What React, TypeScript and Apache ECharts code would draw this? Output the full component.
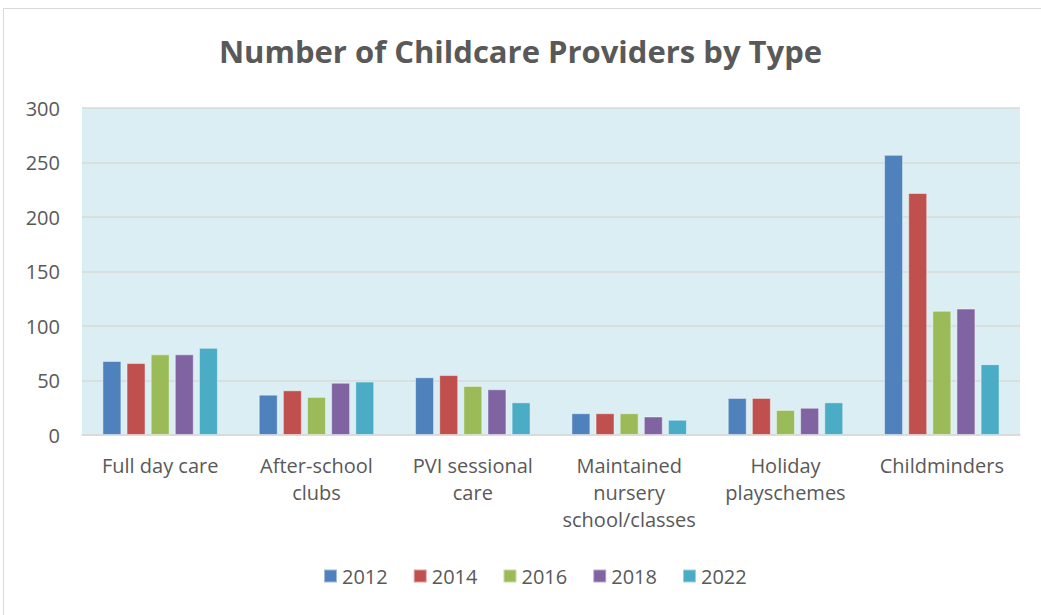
import React, { useEffect, useRef } from "react";
import * as echarts from "echarts";

const categories = [
  "Full day care",
  "After-school\nclubs",
  "PVI sessional\ncare",
  "Maintained\nnursery\nschool/classes",
  "Holiday\nplayschemes",
  "Childminders",
];
const years = ["2012", "2014", "2016", "2018", "2022"];
const v2012 = [68, 37, 53, 20, 34, 257];
const v2014 = [66, 41, 55, 20, 34, 222];
const v2016 = [74, 35, 45, 20, 23, 114];
const v2018 = [74, 48, 42, 17, 25, 116];
const v2022 = [80, 49, 30, 14, 30, 65];
const colors = ["#4F81BD", "#C0504D", "#9BBB59", "#8064A2", "#4BACC6"];

const FONT = "'Open Sans', 'Noto Sans', sans-serif";

export default function App() {
  const ref = useRef<HTMLDivElement>(null);
  useEffect(() => {
    if (!ref.current) return;
    const chart = echarts.init(ref.current, null, { renderer: "svg" });
    const all = [v2012, v2014, v2016, v2018, v2022];
    chart.setOption({
      animation: false,
      backgroundColor: "#FFFFFF",
      title: {
        text: "Number of Childcare Providers by Type",
        left: "center",
        top: 30,
        textStyle: { fontFamily: FONT, fontSize: 31, fontWeight: "bold", color: "#595959" },
      },
      graphic: [
        {
          type: "rect",
          shape: { x: 3.5, y: 8.5, width: 1100, height: 700 },
          style: { fill: "none", stroke: "#D9D9D9", lineWidth: 1 },
          silent: true,
        },
      ],
      grid: { left: 82, right: 21, top: 108, bottom: 180, backgroundColor: "#DAEEF3", show: true, borderWidth: 0 },
      legend: {
        bottom: 24,
        left: 318,
        itemWidth: 13,
        itemHeight: 13,
        itemGap: 25,
        icon: "rect",
        textStyle: { fontFamily: FONT, fontSize: 20, color: "#595959" },
        data: years,
      },
      xAxis: {
        type: "category",
        data: categories,
        axisLine: { lineStyle: { color: "#D9D9D9", width: 1.5 } },
        axisTick: { show: false },
        axisLabel: { fontFamily: FONT, fontSize: 20, color: "#595959", margin: 17, lineHeight: 27, interval: 0 },
      },
      yAxis: {
        type: "value",
        min: 0,
        max: 300,
        interval: 50,
        axisLine: { show: false },
        axisTick: { show: false },
        splitLine: { lineStyle: { color: "#D9D9D9", width: 1.5 } },
        axisLabel: { fontFamily: FONT, fontSize: 20, color: "#595959", margin: 22 },
      },
      series: years.map((y, i) => ({
        name: y,
        type: "bar",
        data: all[i],
        barWidth: 19,
        barGap: "27%",
        itemStyle: { color: colors[i], borderColor: "rgba(255,255,255,0.45)", borderWidth: 1 },
      })),
    });
    return () => chart.dispose();
  }, []);
  return <div ref={ref} style={{ position: "fixed", left: 0, top: 0, width: 1041, height: 615 }} />;
}
